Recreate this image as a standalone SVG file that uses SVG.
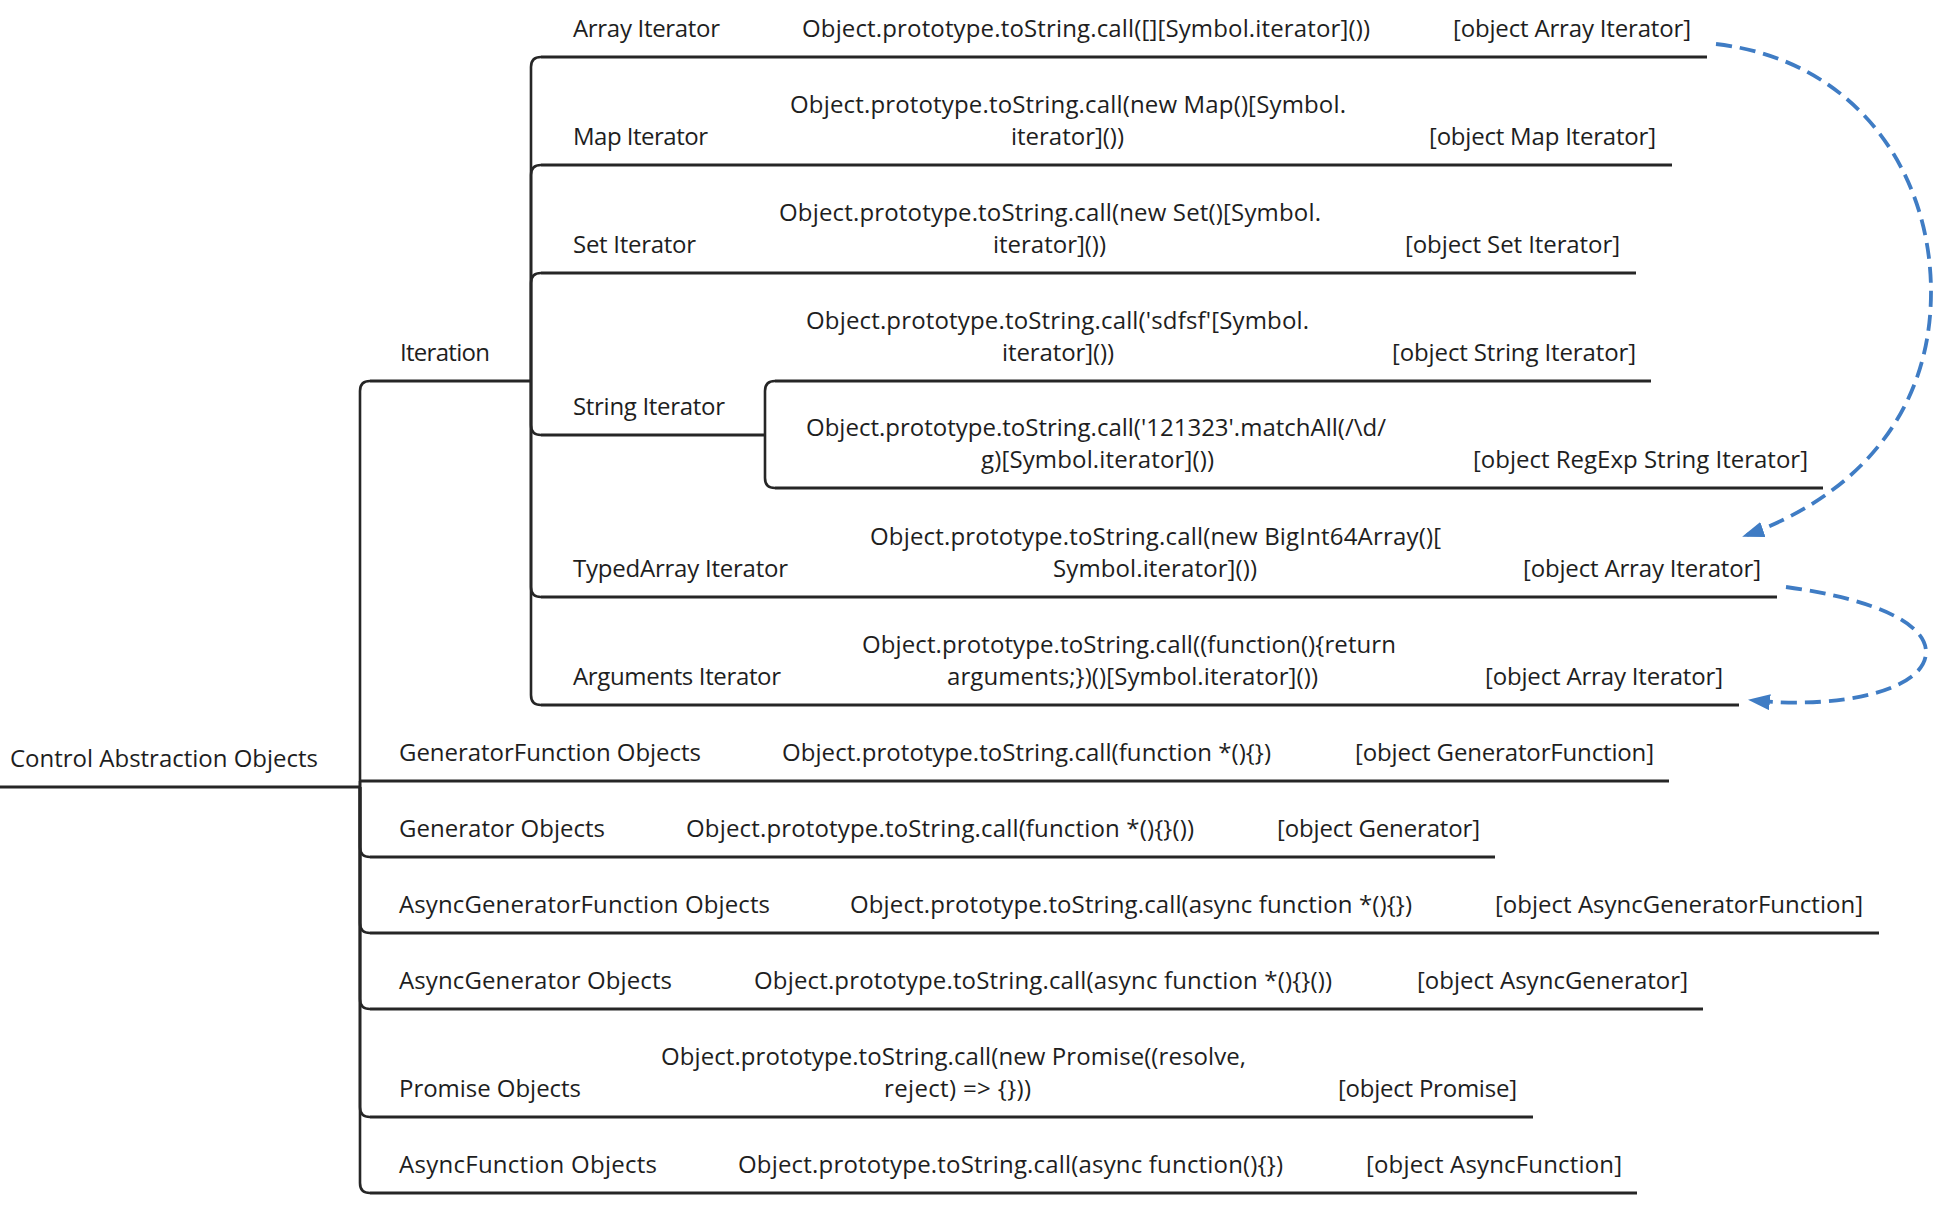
<svg xmlns="http://www.w3.org/2000/svg" width="1956" height="1206" viewBox="0 0 1956 1206">
<style>
text{font-family:"Open Sans","Noto Sans","Liberation Sans",sans-serif;font-size:24px;fill:#1e1e1e}
.u{stroke:#262626;stroke-width:3;fill:none}
.c{stroke:#262626;stroke-width:2.6;fill:none}
.d{stroke:#3f7cc4;stroke-width:3.8;fill:none;stroke-dasharray:16 8}
</style>
<defs>
<marker id="ah" markerUnits="userSpaceOnUse" markerWidth="24" markerHeight="18" refX="20" refY="8" orient="auto">
<path d="M0,0 L22,8 L0,16 Z" fill="#3f7cc4"/>
</marker>
</defs>
<rect width="1956" height="1206" fill="#fff"/>
<g id="connectors">
<path class="c" d="M531,381 V67 Q531,57 541,57"/>
<path class="c" d="M531,381 V175 Q531,165 541,165"/>
<path class="c" d="M531,381 V283 Q531,273 541,273"/>
<path class="c" d="M531,381 V425 Q531,435 541,435"/>
<path class="c" d="M531,381 V587 Q531,597 541,597"/>
<path class="c" d="M531,381 V695 Q531,705 541,705"/>
<path class="c" d="M765,435 V391 Q765,381 775,381"/>
<path class="c" d="M765,435 V478 Q765,488 775,488"/>
<path class="c" d="M360,787 V391 Q360,381 370,381"/>
<path class="c" d="M360,787 V781"/>
<path class="c" d="M360,787 V847 Q360,857 370,857"/>
<path class="c" d="M360,787 V923 Q360,933 370,933"/>
<path class="c" d="M360,787 V999 Q360,1009 370,1009"/>
<path class="c" d="M360,787 V1107 Q360,1117 370,1117"/>
<path class="c" d="M360,787 V1183 Q360,1193 370,1193"/>
<path class="d" d="M1716,44 C1856,60 1931,172 1931,292 C1931,420 1848,500 1744,536" marker-end="url(#ah)"/>
<path class="d" d="M1786,587 C1880,600 1926,625 1926,652 C1926,690 1840,710 1750,700" marker-end="url(#ah)"/>
</g>
<g id="root"><line class="u" x1="0" y1="787" x2="360" y2="787"/><text x="10" y="766.5" textLength="308">Control Abstraction Objects</text></g>
<g id="iteration"><line class="u" x1="370" y1="381" x2="531" y2="381"/><text x="400" y="360.5" textLength="90">Iteration</text></g>

<g id="array-iterator"><line class="u" x1="541" y1="57" x2="761" y2="57"/><text x="573" y="36.5" textLength="147">Array Iterator</text></g>
<g id="array-iterator-code"><line class="u" x1="761" y1="57" x2="1411" y2="57"/><text x="802" y="36.5" textLength="568">Object.prototype.toString.call([][Symbol.iterator]())</text></g>
<g id="array-iterator-result"><line class="u" x1="1411" y1="57" x2="1707" y2="57"/><text x="1453" y="36.5" textLength="238">[object Array Iterator]</text></g>

<g id="map-iterator"><line class="u" x1="541" y1="165" x2="749" y2="165"/><text x="573" y="144.5" textLength="135">Map Iterator</text></g>
<g id="map-iterator-code"><line class="u" x1="749" y1="165" x2="1387" y2="165"/><text x="790" y="112.5" textLength="556">Object.prototype.toString.call(new Map()[Symbol.</text><text x="1011" y="144.5" textLength="113">iterator]())</text></g>
<g id="map-iterator-result"><line class="u" x1="1387" y1="165" x2="1672" y2="165"/><text x="1429" y="144.5" textLength="227">[object Map Iterator]</text></g>

<g id="set-iterator"><line class="u" x1="541" y1="273" x2="737" y2="273"/><text x="573" y="252.5" textLength="123">Set Iterator</text></g>
<g id="set-iterator-code"><line class="u" x1="737" y1="273" x2="1363" y2="273"/><text x="779" y="220.5" textLength="542">Object.prototype.toString.call(new Set()[Symbol.</text><text x="993" y="252.5" textLength="113">iterator]())</text></g>
<g id="set-iterator-result"><line class="u" x1="1363" y1="273" x2="1636" y2="273"/><text x="1405" y="252.5" textLength="215">[object Set Iterator]</text></g>

<g id="string-iterator"><line class="u" x1="541" y1="435" x2="765" y2="435"/><text x="573" y="414.5" textLength="152">String Iterator</text></g>
<g id="string-iterator-code"><line class="u" x1="775" y1="381" x2="1350" y2="381"/><text x="806" y="328.5" textLength="503">Object.prototype.toString.call('sdfsf'[Symbol.</text><text x="1002" y="360.5" textLength="112">iterator]())</text></g>
<g id="string-iterator-result"><line class="u" x1="1350" y1="381" x2="1651" y2="381"/><text x="1392" y="360.5" textLength="244">[object String Iterator]</text></g>
<g id="regexp-iterator-code"><line class="u" x1="775" y1="488" x2="1429" y2="488"/><text x="806" y="435.5" textLength="580">Object.prototype.toString.call('121323'.matchAll(/\d/</text><text x="981" y="467.5" textLength="233">g)[Symbol.iterator]())</text></g>
<g id="regexp-iterator-result"><line class="u" x1="1429" y1="488" x2="1823" y2="488"/><text x="1473" y="467.5" textLength="335">[object RegExp String Iterator]</text></g>

<g id="typedarray-iterator"><line class="u" x1="541" y1="597" x2="829" y2="597"/><text x="573" y="576.5" textLength="215">TypedArray Iterator</text></g>
<g id="typedarray-iterator-code"><line class="u" x1="829" y1="597" x2="1482" y2="597"/><text x="870" y="544.5" textLength="571">Object.prototype.toString.call(new BigInt64Array()[</text><text x="1053" y="576.5" textLength="204">Symbol.iterator]())</text></g>
<g id="typedarray-iterator-result"><line class="u" x1="1482" y1="597" x2="1777" y2="597"/><text x="1523" y="576.5" textLength="238">[object Array Iterator]</text></g>

<g id="arguments-iterator"><line class="u" x1="541" y1="705" x2="821" y2="705"/><text x="573" y="684.5" textLength="208">Arguments Iterator</text></g>
<g id="arguments-iterator-code"><line class="u" x1="821" y1="705" x2="1440" y2="705"/><text x="862" y="652.5" textLength="534">Object.prototype.toString.call((function(){return</text><text x="947" y="684.5" textLength="371">arguments;})()[Symbol.iterator]())</text></g>
<g id="arguments-iterator-result"><line class="u" x1="1440" y1="705" x2="1739" y2="705"/><text x="1485" y="684.5" textLength="238">[object Array Iterator]</text></g>

<g id="generatorfunction"><line class="u" x1="360" y1="781" x2="741" y2="781"/><text x="399" y="760.5" textLength="302">GeneratorFunction Objects</text></g>
<g id="generatorfunction-code"><line class="u" x1="741" y1="781" x2="1313" y2="781"/><text x="782" y="760.5" textLength="489">Object.prototype.toString.call(function *(){})</text></g>
<g id="generatorfunction-result"><line class="u" x1="1313" y1="781" x2="1669" y2="781"/><text x="1355" y="760.5" textLength="299">[object GeneratorFunction]</text></g>

<g id="generator"><line class="u" x1="370" y1="857" x2="645" y2="857"/><text x="399" y="836.5" textLength="206">Generator Objects</text></g>
<g id="generator-code"><line class="u" x1="645" y1="857" x2="1235" y2="857"/><text x="686" y="836.5" textLength="508">Object.prototype.toString.call(function *(){}())</text></g>
<g id="generator-result"><line class="u" x1="1235" y1="857" x2="1495" y2="857"/><text x="1277" y="836.5" textLength="203">[object Generator]</text></g>

<g id="asyncgeneratorfunction"><line class="u" x1="370" y1="933" x2="810" y2="933"/><text x="399" y="912.5" textLength="371">AsyncGeneratorFunction Objects</text></g>
<g id="asyncgeneratorfunction-code"><line class="u" x1="810" y1="933" x2="1453" y2="933"/><text x="850" y="912.5" textLength="562">Object.prototype.toString.call(async function *(){})</text></g>
<g id="asyncgeneratorfunction-result"><line class="u" x1="1453" y1="933" x2="1879" y2="933"/><text x="1495" y="912.5" textLength="368">[object AsyncGeneratorFunction]</text></g>

<g id="asyncgenerator"><line class="u" x1="370" y1="1009" x2="713" y2="1009"/><text x="399" y="988.5" textLength="273">AsyncGenerator Objects</text></g>
<g id="asyncgenerator-code"><line class="u" x1="713" y1="1009" x2="1374" y2="1009"/><text x="754" y="988.5" textLength="578">Object.prototype.toString.call(async function *(){}())</text></g>
<g id="asyncgenerator-result"><line class="u" x1="1374" y1="1009" x2="1703" y2="1009"/><text x="1417" y="988.5" textLength="271">[object AsyncGenerator]</text></g>

<g id="promise"><line class="u" x1="370" y1="1117" x2="621" y2="1117"/><text x="399" y="1096.5" textLength="182">Promise Objects</text></g>
<g id="promise-code"><line class="u" x1="621" y1="1117" x2="1292" y2="1117"/><text x="661" y="1064.5" textLength="585">Object.prototype.toString.call(new Promise((resolve,</text><text x="884" y="1096.5" textLength="147">reject) =&gt; {}))</text></g>
<g id="promise-result"><line class="u" x1="1292" y1="1117" x2="1533" y2="1117"/><text x="1338" y="1096.5" textLength="179">[object Promise]</text></g>

<g id="asyncfunction"><line class="u" x1="370" y1="1193" x2="697" y2="1193"/><text x="399" y="1172.5" textLength="258">AsyncFunction Objects</text></g>
<g id="asyncfunction-code"><line class="u" x1="697" y1="1193" x2="1324" y2="1193"/><text x="738" y="1172.5" textLength="545">Object.prototype.toString.call(async function(){})</text></g>
<g id="asyncfunction-result"><line class="u" x1="1324" y1="1193" x2="1637" y2="1193"/><text x="1366" y="1172.5" textLength="256">[object AsyncFunction]</text></g>
</svg>
